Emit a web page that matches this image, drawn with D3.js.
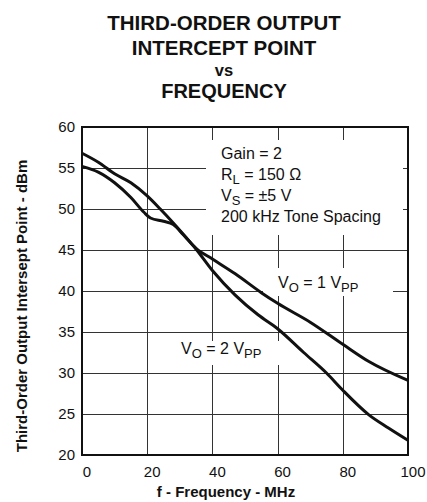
<!DOCTYPE html>
<html lang="en">
  <head>
    <meta charset="utf-8">
    <title>Third-Order Output Intercept Point vs Frequency</title>
    <script src="https://d3js.org/d3.v7.min.js"></script>
    <style>
      body { margin: 0; background: #fff; }
      text { font-family: "Liberation Sans", Arial, Helvetica, sans-serif; fill: #111; }
    </style>
  </head>
  <body>
    <div id="chart"></div>
    <script type="text/javascript">
      // values (MHz, dBm)
      var freqVo2 = [0, 5, 10, 15, 20, 24, 28, 32, 35, 40, 47, 54, 60, 68, 75, 80, 88, 94, 100];
      var ip3Vo2  = [56.8, 55.7, 54.3, 53.2, 51.6, 50.0, 48.3, 46.5, 45.1, 42.5, 39.5, 37.1, 35.4, 32.5, 30.0, 27.9, 24.9, 23.3, 21.8];

      var freqVo1 = [0, 5, 10, 15, 19, 21, 25, 28, 31, 35, 40, 47, 55, 60, 70, 80, 88, 100];
      var ip3Vo1  = [55.2, 54.5, 53.2, 51.4, 49.6, 48.9, 48.5, 48.1, 46.9, 45.2, 43.9, 42.1, 39.8, 38.5, 36.2, 33.5, 31.4, 29.1];

      var xTicks = [0, 20, 40, 60, 80, 100];
      var yTicks = [20, 25, 30, 35, 40, 45, 50, 55, 60];

      var titleLines = ["THIRD-ORDER OUTPUT", "INTERCEPT POINT", "vs", "FREQUENCY"];

      var svgContainer = d3.select('#chart')
        .append('svg')
        .attr('width', 427)
        .attr('height', 502);

      var xScale = d3.scaleLinear().domain([0, 100]).range([82, 408]);
      var yScale = d3.scaleLinear().domain([20, 60]).range([455, 127]);

      // title ("vs" is set smaller)
      var titleY = [30, 55, 76, 98];
      var titleSize = [20.5, 20.5, 16.5, 20];
      svgContainer.selectAll('.title')
        .data(titleLines)
        .enter()
        .append('text')
          .attr('class', 'title')
          .attr('x', 224)
          .attr('y', (d, i) => titleY[i])
          .attr('text-anchor', 'middle')
          .style('font-size', (d, i) => titleSize[i] + 'px')
          .style('font-weight', 'bold')
          .text(d => d);

      // grid
      var grid = svgContainer.append('g');
      grid.selectAll('.hgrid')
        .data(yTicks.slice(1, -1))
        .enter()
        .append('line')
          .attr('x1', xScale(0)).attr('x2', xScale(100))
          .attr('y1', d => Math.round(yScale(d)) + 0.5)
          .attr('y2', d => Math.round(yScale(d)) + 0.5)
          .style('stroke', '#333').style('stroke-width', 1);
      grid.selectAll('.vgrid')
        .data(xTicks.slice(1, -1))
        .enter()
        .append('line')
          .attr('x1', d => Math.round(xScale(d)) + 0.5)
          .attr('x2', d => Math.round(xScale(d)) + 0.5)
          .attr('y1', yScale(60)).attr('y2', yScale(20))
          .style('stroke', '#333').style('stroke-width', 1);

      // white boxes behind the notes (grid is broken there)
      var boxes = [[206, 140, 197, 95], [263, 268, 130, 28], [175, 341, 107, 24]];
      svgContainer.selectAll('.box')
        .data(boxes)
        .enter()
        .append('rect')
          .attr('x', d => d[0]).attr('y', d => d[1])
          .attr('width', d => d[2]).attr('height', d => d[3])
          .style('fill', '#fff');

      // frame
      svgContainer.append('rect')
        .attr('x', xScale(0)).attr('y', yScale(60))
        .attr('width', xScale(100) - xScale(0))
        .attr('height', yScale(20) - yScale(60))
        .style('fill', 'none')
        .style('stroke', '#111')
        .style('stroke-width', 2);

      // tick labels
      svgContainer.selectAll('.ylab')
        .data(yTicks)
        .enter()
        .append('text')
          .attr('x', 75)
          .attr('y', d => yScale(d))
          .attr('dy', '0.36em')
          .attr('text-anchor', 'end')
          .style('font-size', '15px')
          .text(d => d);

      svgContainer.selectAll('.xlab')
        .data(xTicks)
        .enter()
        .append('text')
          .attr('x', d => xScale(d) + 5)
          .attr('y', 477)
          .attr('text-anchor', 'middle')
          .style('font-size', '15px')
          .text(d => d);

      // axis titles
      svgContainer.append('text')
        .attr('x', 226)
        .attr('y', 497)
        .attr('text-anchor', 'middle')
        .style('font-size', '15px')
        .style('font-weight', 'bold')
        .text('f - Frequency - MHz');

      svgContainer.append('text')
        .attr('transform', 'translate(27, 306)rotate(-90)')
        .attr('text-anchor', 'middle')
        .style('font-size', '15px')
        .style('font-weight', 'bold')
        .text('Third-Order Output Intersept Point - dBm');

      // curves
      var line = d3.line()
        .x(d => xScale(d[0]))
        .y(d => yScale(d[1]))
        .curve(d3.curveMonotoneX);

      var drawCurve = function(fs, vs) {
        svgContainer.append('path')
          .datum(fs.map((f, i) => [f, vs[i]]))
          .attr('d', line)
          .style('fill', 'none')
          .style('stroke', '#111')
          .style('stroke-width', 3)
          .style('stroke-linejoin', 'round');
      }
      drawCurve(freqVo2, ip3Vo2);
      drawCurve(freqVo1, ip3Vo1);

      // text with subscripts: parts = [[text, isSub], ...]
      var subText = function(x, y, parts) {
        let t = svgContainer.append('text')
          .attr('x', x).attr('y', y)
          .style('font-size', '16px');
        let down = false;
        parts.forEach(function(p) {
          let s = t.append('tspan').text(p[0]);
          if (p[1] && !down) { s.attr('dy', 4).style('font-size', '13px'); down = true; }
          else if (p[1]) { s.style('font-size', '13px'); }
          else if (down) { s.attr('dy', -4); down = false; }
        });
      }

      subText(221, 159, [['Gain = 2', false]]);
      subText(221, 180, [['R', false], ['L', true], [' = 150 \u03A9', false]]);
      subText(221, 201, [['V', false], ['S', true], [' = \u00B15 V', false]]);
      subText(221, 222, [['200 kHz Tone Spacing', false]]);

      subText(278, 288, [['V', false], ['O', true], [' = 1 V', false], ['PP', true]]);
      subText(181, 354, [['V', false], ['O', true], [' = 2 V', false], ['PP', true]]);
    </script>
  </body>
</html>
